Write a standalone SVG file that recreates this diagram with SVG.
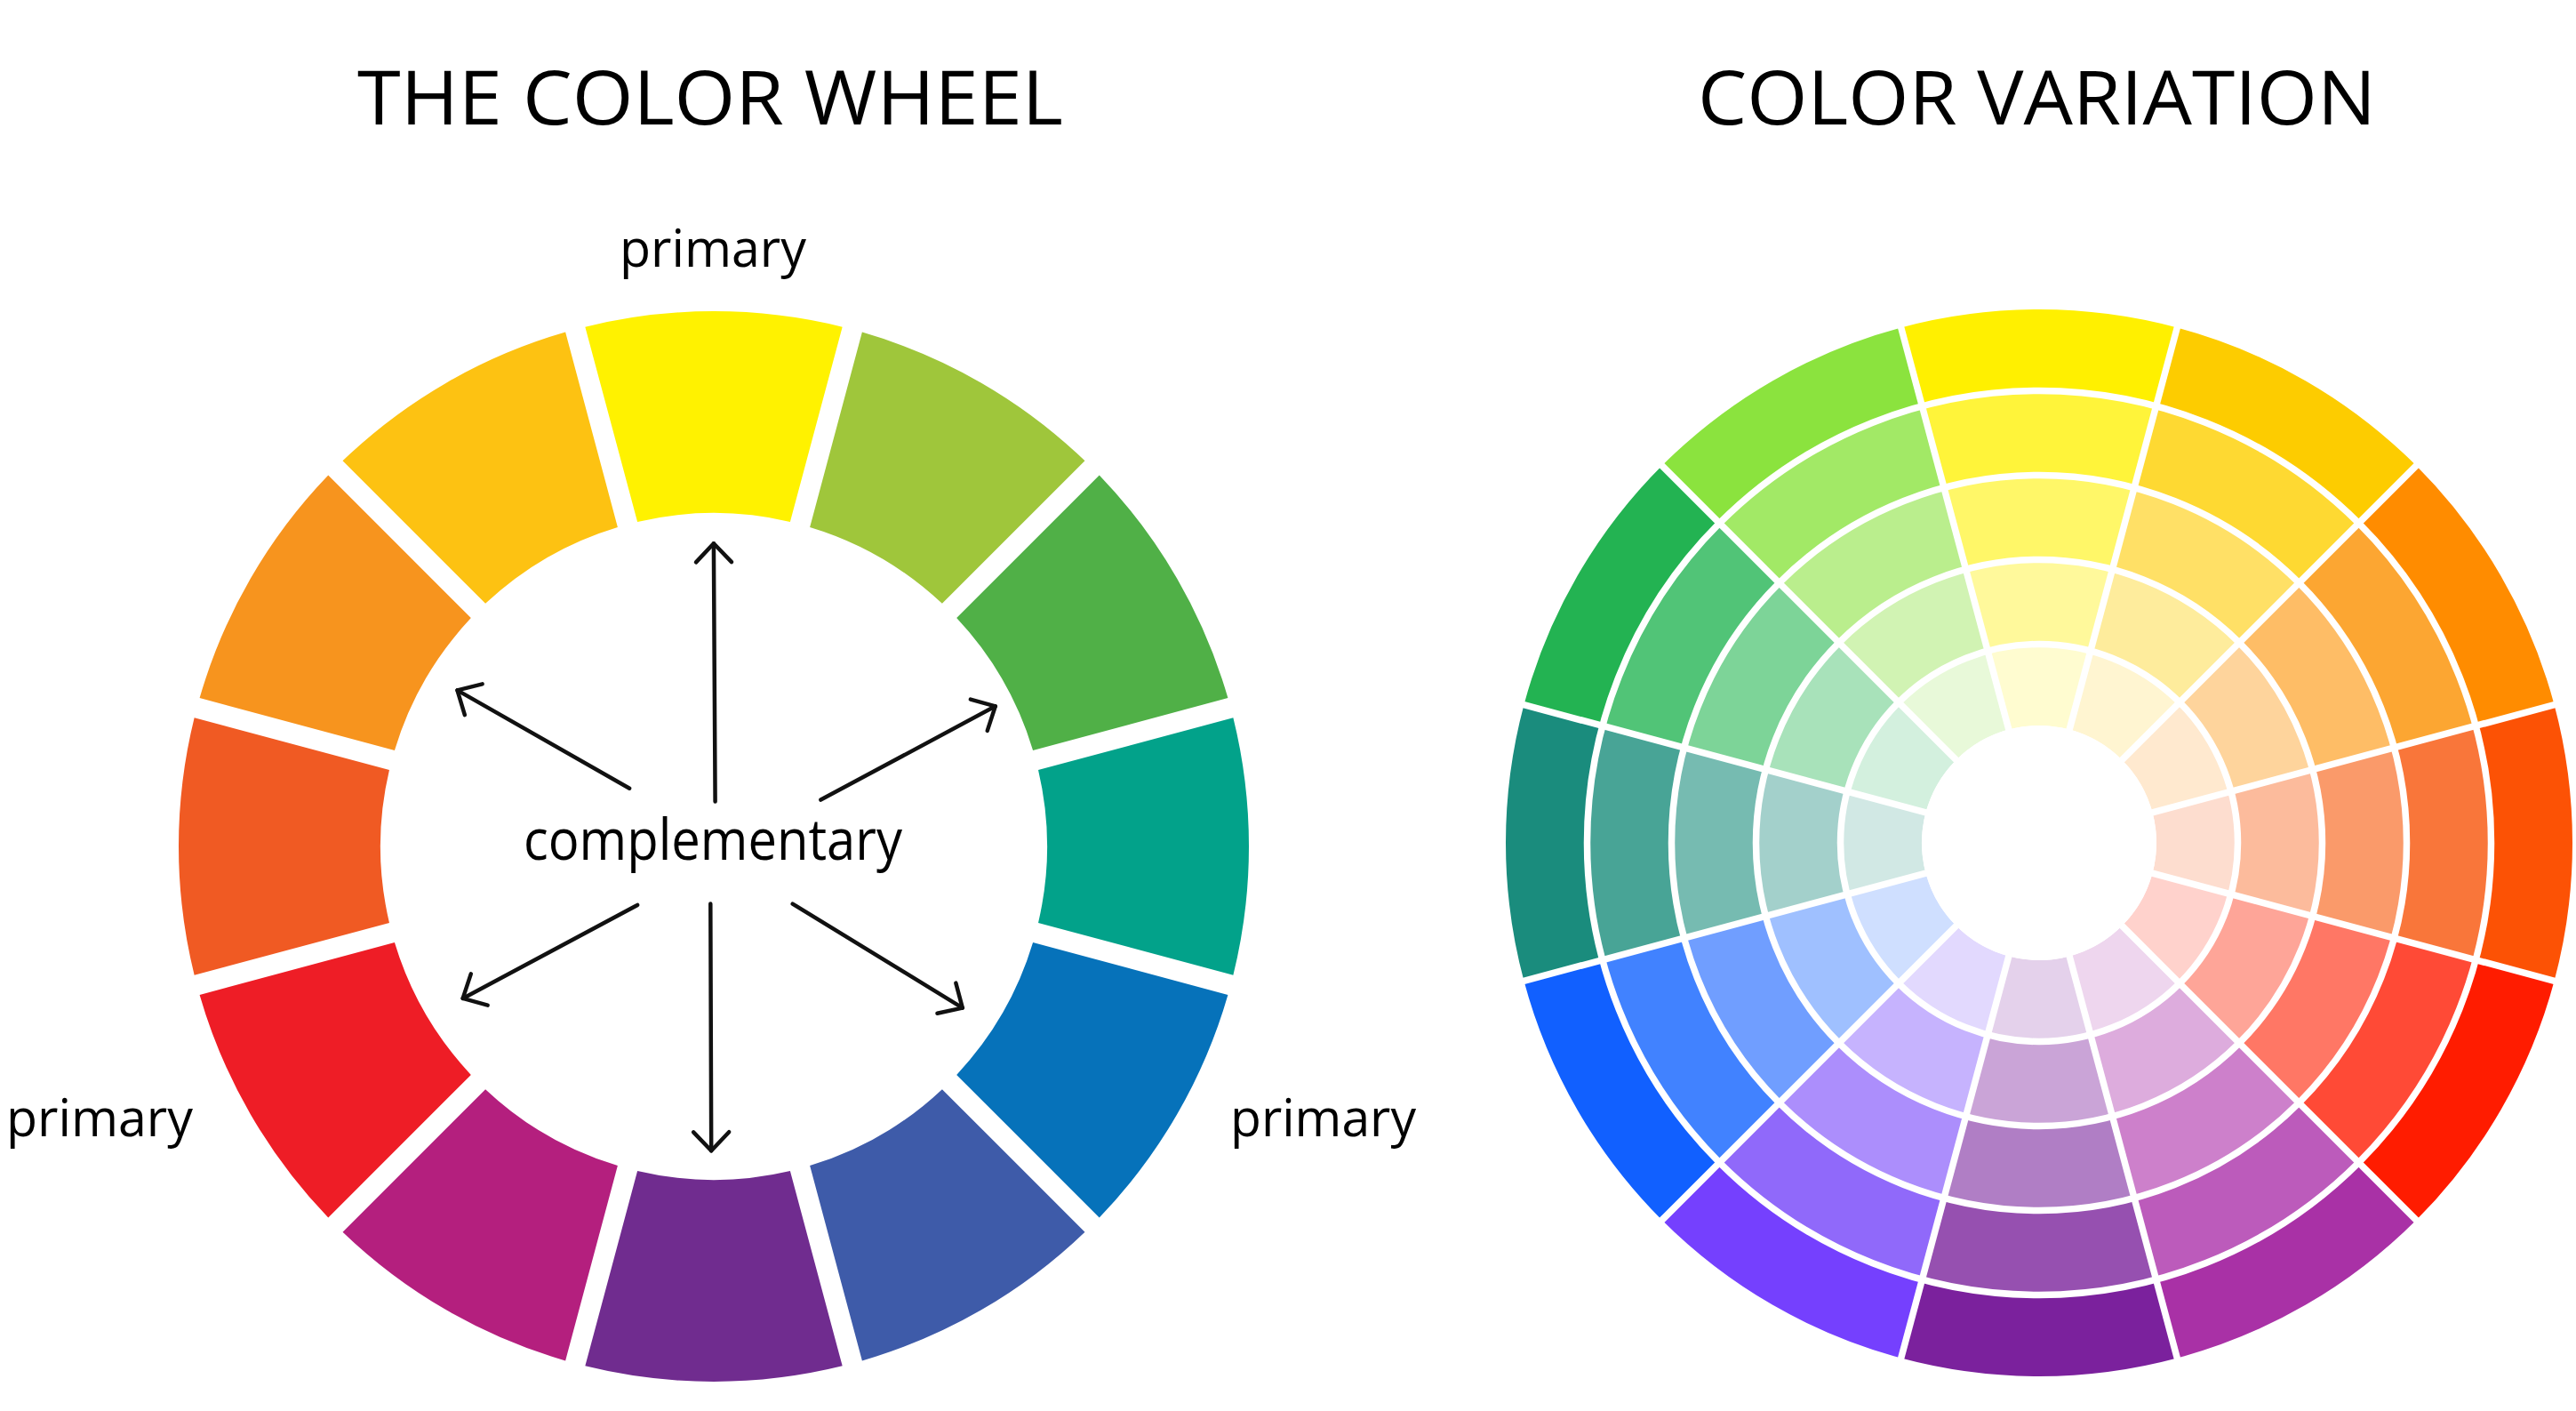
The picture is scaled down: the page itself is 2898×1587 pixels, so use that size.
<svg xmlns="http://www.w3.org/2000/svg" xmlns:xlink="http://www.w3.org/1999/xlink" width="2898" height="1587" viewBox="0 0 2898 1587">
<style>
.t{font-family:"Open Sans","Noto Sans","DejaVu Sans",sans-serif;fill:#000}
.title{font-size:85px}
.lbl{font-size:58px}
.comp{font-size:64px}
.arw{fill:none;stroke:#111;stroke-width:4.5;stroke-linecap:round;stroke-linejoin:round}
.wl{fill:none;stroke:#fff;stroke-width:7.5}
</style>
<defs>
<path id="lseg" d="M-144.67,-584.36 A602,602 0 0 1 144.67,-584.36 L85.90,-365.03 A375,375 0 0 0 -85.90,-365.03 Z"/>
<path id="r5" d="M-155.29,-579.56 A600,600 0 0 1 155.29,-579.56 L131.61,-491.17 A508.5,508.5 0 0 0 -131.61,-491.17 Z"/>
<path id="r4" d="M-131.61,-491.17 A508.5,508.5 0 0 1 131.61,-491.17 L107.02,-399.41 A413.5,413.5 0 0 0 -107.02,-399.41 Z"/>
<path id="r3" d="M-107.02,-399.41 A413.5,413.5 0 0 1 107.02,-399.41 L82.44,-307.64 A318.5,318.5 0 0 0 -82.44,-307.64 Z"/>
<path id="r2" d="M-82.44,-307.64 A318.5,318.5 0 0 1 82.44,-307.64 L57.85,-215.88 A223.5,223.5 0 0 0 -57.85,-215.88 Z"/>
<path id="r1" d="M-57.85,-215.88 A223.5,223.5 0 0 1 57.85,-215.88 L34.16,-127.50 A132,132 0 0 0 -34.16,-127.50 Z"/>
<marker id="head" markerUnits="userSpaceOnUse" viewBox="-30 -30 40 60" markerWidth="40" markerHeight="60" refX="0" refY="0" orient="auto" overflow="visible">
<path d="M-21,-20 L0,0 L-21,20" fill="none" stroke="#111" stroke-width="4.5" stroke-linecap="round" stroke-linejoin="round"/>
</marker>
</defs>
<rect width="2898" height="1587" fill="#fff"/>

<g id="title-left"><text class="t title" x="402" y="140" textLength="794" lengthAdjust="spacingAndGlyphs">THE COLOR WHEEL</text></g>
<g id="title-right"><text class="t title" x="1910" y="140" textLength="763" lengthAdjust="spacingAndGlyphs">COLOR VARIATION</text></g>

<g id="color-wheel" transform="translate(803 952)">
<g id="seg-yellow"><use xlink:href="#lseg" fill="#FFF200"/></g>
<g id="seg-yellow-green"><use xlink:href="#lseg" transform="rotate(30)" fill="#9FC63B"/></g>
<g id="seg-green"><use xlink:href="#lseg" transform="rotate(60)" fill="#50B047"/></g>
<g id="seg-blue-green"><use xlink:href="#lseg" transform="rotate(90)" fill="#02A28A"/></g>
<g id="seg-blue"><use xlink:href="#lseg" transform="rotate(120)" fill="#0672BA"/></g>
<g id="seg-blue-violet"><use xlink:href="#lseg" transform="rotate(150)" fill="#3E5BA9"/></g>
<g id="seg-violet"><use xlink:href="#lseg" transform="rotate(180)" fill="#702C8F"/></g>
<g id="seg-red-violet"><use xlink:href="#lseg" transform="rotate(210)" fill="#B41F7E"/></g>
<g id="seg-red"><use xlink:href="#lseg" transform="rotate(240)" fill="#EE1D26"/></g>
<g id="seg-red-orange"><use xlink:href="#lseg" transform="rotate(270)" fill="#F05A23"/></g>
<g id="seg-orange"><use xlink:href="#lseg" transform="rotate(300)" fill="#F7941E"/></g>
<g id="seg-yellow-orange"><use xlink:href="#lseg" transform="rotate(330)" fill="#FDC212"/></g>
</g>

<g id="label-primary-top"><text class="t lbl" x="697" y="300" textLength="210" lengthAdjust="spacingAndGlyphs">primary</text></g>
<g id="label-primary-left"><text class="t lbl" x="7" y="1278" textLength="210" lengthAdjust="spacingAndGlyphs">primary</text></g>
<g id="label-primary-right"><text class="t lbl" x="1384" y="1278" textLength="209" lengthAdjust="spacingAndGlyphs">primary</text></g>
<g id="label-complementary"><text class="t comp" x="589" y="967" textLength="426" lengthAdjust="spacingAndGlyphs">complementary</text></g>

<g id="connectors">
<path class="arw" d="M804.6,901.4 L802.9,611.3" marker-end="url(#head)"/>
<path class="arw" d="M708.2,886.7 L514.5,776.4" marker-end="url(#head)"/>
<path class="arw" d="M923.4,899.6 L1119.8,794.3" marker-end="url(#head)"/>
<path class="arw" d="M717.1,1017.9 L520.7,1122.9" marker-end="url(#head)"/>
<path class="arw" d="M799.3,1016.6 L800.2,1294.3" marker-end="url(#head)"/>
<path class="arw" d="M891.7,1016.6 L1082.8,1133.6" marker-end="url(#head)"/>
</g>

<g id="color-variation" transform="translate(2294 948)">
<g id="var-yellow"><use xlink:href="#r5" fill="#FFF000"/><use xlink:href="#r4" fill="#FFF43A"/><use xlink:href="#r3" fill="#FFF768"/><use xlink:href="#r2" fill="#FFF99B"/><use xlink:href="#r1" fill="#FFFCD0"/></g>
<g id="var-yellow-orange" transform="rotate(30)"><use xlink:href="#r5" fill="#FDCC00"/><use xlink:href="#r4" fill="#FED932"/><use xlink:href="#r3" fill="#FFE066"/><use xlink:href="#r2" fill="#FEEC9C"/><use xlink:href="#r1" fill="#FFF5D1"/></g>
<g id="var-orange" transform="rotate(60)"><use xlink:href="#r5" fill="#FF8C00"/><use xlink:href="#r4" fill="#FCA632"/><use xlink:href="#r3" fill="#FEBD66"/><use xlink:href="#r2" fill="#FED49C"/><use xlink:href="#r1" fill="#FFE9CF"/></g>
<g id="var-red-orange" transform="rotate(90)"><use xlink:href="#r5" fill="#FC5205"/><use xlink:href="#r4" fill="#F9763A"/><use xlink:href="#r3" fill="#FA9A6A"/><use xlink:href="#r2" fill="#FCBB9C"/><use xlink:href="#r1" fill="#FDDDCF"/></g>
<g id="var-red" transform="rotate(120)"><use xlink:href="#r5" fill="#FF1C00"/><use xlink:href="#r4" fill="#FF4A36"/><use xlink:href="#r3" fill="#FF7765"/><use xlink:href="#r2" fill="#FEA598"/><use xlink:href="#r1" fill="#FFD2CC"/></g>
<g id="var-red-violet" transform="rotate(150)"><use xlink:href="#r5" fill="#A931A6"/><use xlink:href="#r4" fill="#BC5BBB"/><use xlink:href="#r3" fill="#CD80CB"/><use xlink:href="#r2" fill="#DDACDD"/><use xlink:href="#r1" fill="#EED6EE"/></g>
<g id="var-violet" transform="rotate(180)"><use xlink:href="#r5" fill="#7B219D"/><use xlink:href="#r4" fill="#9650B0"/><use xlink:href="#r3" fill="#B07EC5"/><use xlink:href="#r2" fill="#CAA4D7"/><use xlink:href="#r1" fill="#E4D1EB"/></g>
<g id="var-blue-violet" transform="rotate(210)"><use xlink:href="#r5" fill="#7540FE"/><use xlink:href="#r4" fill="#9069FA"/><use xlink:href="#r3" fill="#AC8EFC"/><use xlink:href="#r2" fill="#C6B3FE"/><use xlink:href="#r1" fill="#E2D9FE"/></g>
<g id="var-blue" transform="rotate(240)"><use xlink:href="#r5" fill="#1160FF"/><use xlink:href="#r4" fill="#4182FF"/><use xlink:href="#r3" fill="#709EFF"/><use xlink:href="#r2" fill="#9FC0FF"/><use xlink:href="#r1" fill="#CFDFFF"/></g>
<g id="var-blue-green" transform="rotate(270)"><use xlink:href="#r5" fill="#1A8C7D"/><use xlink:href="#r4" fill="#48A496"/><use xlink:href="#r3" fill="#76BBB1"/><use xlink:href="#r2" fill="#A3D0CB"/><use xlink:href="#r1" fill="#D1E8E4"/></g>
<g id="var-green" transform="rotate(300)"><use xlink:href="#r5" fill="#23B352"/><use xlink:href="#r4" fill="#51C477"/><use xlink:href="#r3" fill="#7DD498"/><use xlink:href="#r2" fill="#A8E2BA"/><use xlink:href="#r1" fill="#D3F0DE"/></g>
<g id="var-yellow-green" transform="rotate(330)"><use xlink:href="#r5" fill="#8BE33E"/><use xlink:href="#r4" fill="#A2E966"/><use xlink:href="#r3" fill="#BAEE8D"/><use xlink:href="#r2" fill="#D1F3B3"/><use xlink:href="#r1" fill="#E8F9D9"/></g>
<g id="var-dividers">
<circle class="wl" r="223.5"/><circle class="wl" r="318.5"/><circle class="wl" r="413.5"/><circle class="wl" r="508.5"/>
<line class="wl" x1="0" y1="-606" x2="0" y2="606" transform="rotate(15)"/>
<line class="wl" x1="0" y1="-606" x2="0" y2="606" transform="rotate(45)"/>
<line class="wl" x1="0" y1="-606" x2="0" y2="606" transform="rotate(75)"/>
<line class="wl" x1="0" y1="-606" x2="0" y2="606" transform="rotate(105)"/>
<line class="wl" x1="0" y1="-606" x2="0" y2="606" transform="rotate(135)"/>
<line class="wl" x1="0" y1="-606" x2="0" y2="606" transform="rotate(165)"/>
<circle r="132" fill="#fff"/>
</g>
</g>
</svg>
